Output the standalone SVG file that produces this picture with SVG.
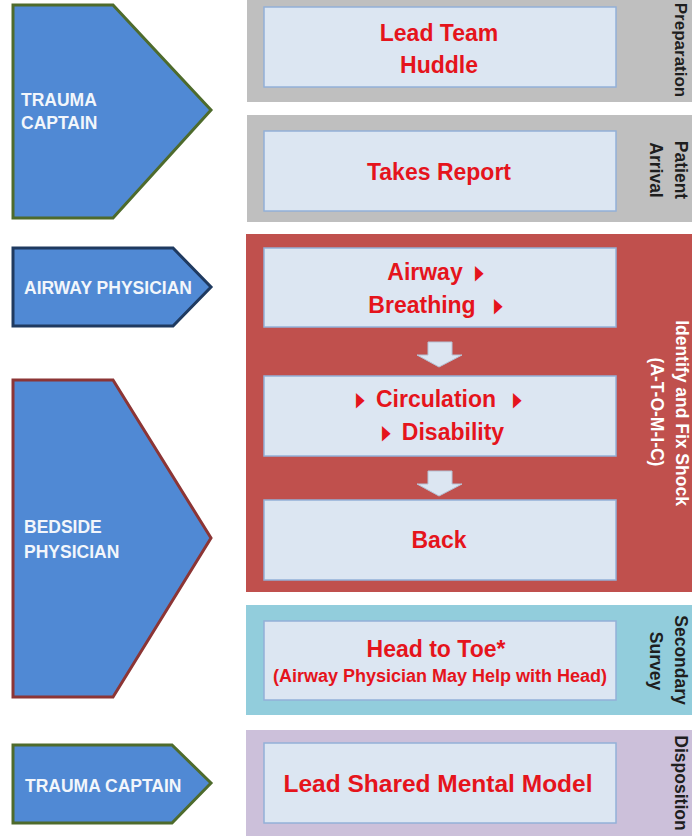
<svg xmlns="http://www.w3.org/2000/svg" width="692" height="836" viewBox="0 0 692 836">
<style>
.role{fill:#5089d4;stroke-width:3;stroke-linejoin:miter}
.rt{font-family:"Liberation Sans",Arial,sans-serif;font-weight:bold;font-size:17.5px;fill:#f2f6fb}
.box{fill:#dce6f2;stroke:#93b0d8;stroke-width:1.5}
.bt{font-family:"Liberation Sans",Arial,sans-serif;font-weight:bold;font-size:23px;fill:#e5141c;text-anchor:middle}
.bl{font-family:"DejaVu Sans",sans-serif;font-size:15px;fill:#e5141c}
.vt{font-family:"Liberation Sans",Arial,sans-serif;font-weight:bold;font-size:17.5px;fill:#1e1e1e;text-anchor:middle}
.vw{fill:#ffffff}
.arr{fill:#dce6f2;stroke:#b5c3d6;stroke-width:1}
</style>
<rect width="692" height="836" fill="#ffffff"/>

<!-- phase panels -->
<g id="phase-preparation">
<rect x="247" y="-10" width="450" height="112" fill="#bfbfbf"/>
<text class="vt" transform="translate(675,50) rotate(90)" style="font-size:17px">Preparation</text>
</g>
<g id="phase-arrival">
<rect x="247" y="115" width="450" height="107" fill="#bfbfbf"/>
<text class="vt" transform="translate(675,170) rotate(90)">Patient</text>
<text class="vt" transform="translate(650,170) rotate(90)">Arrival</text>
</g>
<g id="phase-shock">
<rect x="246" y="234" width="451" height="358" fill="#c0504d"/>
<text class="vt vw" transform="translate(676,413) rotate(90)">Identify and Fix Shock</text>
<text class="vt vw" transform="translate(651,412) rotate(90)">(A-T-O-M-I-C)</text>
</g>
<g id="phase-secondary">
<rect x="246" y="605" width="451" height="110" fill="#92cddc"/>
<text class="vt" transform="translate(675,660) rotate(90)">Secondary</text>
<text class="vt" transform="translate(650,661) rotate(90)">Survey</text>
</g>
<g id="phase-disposition">
<rect x="246" y="730" width="451" height="120" fill="#ccc0da"/>
<text class="vt" transform="translate(675,783) rotate(90)">Disposition</text>
</g>

<!-- role nodes -->
<g id="role-trauma-captain-1">
<polygon class="role" stroke="#4e6b2c" points="13,5 113,5 211,110 113,218 13,218"/>
<text class="rt" x="21" y="106">TRAUMA</text>
<text class="rt" x="21" y="129">CAPTAIN</text>
</g>
<g id="role-airway-physician">
<polygon class="role" stroke="#1f3a60" points="13,248 173,248 211,287 173,326 13,326"/>
<text class="rt" x="24" y="294">AIRWAY PHYSICIAN</text>
</g>
<g id="role-bedside-physician">
<polygon class="role" stroke="#8c3535" points="13,380 113,380 211,538 113,697 13,697"/>
<text class="rt" x="24" y="533">BEDSIDE</text>
<text class="rt" x="24" y="558">PHYSICIAN</text>
</g>
<g id="role-trauma-captain-2">
<polygon class="role" stroke="#4e6b2c" points="13,745 172,745 211,783 172,823 13,823"/>
<text class="rt" x="25" y="792">TRAUMA CAPTAIN</text>
</g>

<!-- task nodes -->
<g id="task-huddle">
<rect class="box" x="264" y="7" width="352" height="80"/>
<text class="bt" x="439" y="41">Lead Team</text>
<text class="bt" x="439" y="73">Huddle</text>
</g>
<g id="task-report">
<rect class="box" x="264" y="131" width="352" height="80"/>
<text class="bt" x="439" y="180">Takes Report</text>
</g>
<g id="task-airway-breathing">
<rect class="box" x="264" y="248" width="352" height="79"/>
<text class="bt" x="425" y="280">Airway</text>
<text class="bl" transform="translate(475,279) scale(0.75,1.35)">▶</text>
<text class="bt" x="422" y="313">Breathing</text>
<text class="bl" transform="translate(494,312) scale(0.75,1.35)">▶</text>
</g>
<g id="task-circulation-disability">
<rect class="box" x="264" y="376" width="352" height="80"/>
<text class="bl" transform="translate(356,406) scale(0.75,1.35)">▶</text>
<text class="bt" x="436" y="407">Circulation</text>
<text class="bl" transform="translate(513,406) scale(0.75,1.35)">▶</text>
<text class="bl" transform="translate(382,439) scale(0.75,1.35)">▶</text>
<text class="bt" x="453" y="440">Disability</text>
</g>
<g id="task-back">
<rect class="box" x="264" y="500" width="352" height="80"/>
<text class="bt" x="439" y="548">Back</text>
</g>
<g id="task-head-to-toe">
<rect class="box" x="264" y="621" width="352" height="79"/>
<text class="bt" x="436" y="657">Head to Toe*</text>
<text class="bt" x="440" y="682" style="font-size:18px">(Airway Physician May Help with Head)</text>
</g>
<g id="task-mental-model">
<rect class="box" x="264" y="743" width="352" height="80"/>
<text class="bt" x="438" y="792" style="font-size:24.5px">Lead Shared Mental Model</text>
</g>

<!-- connectors -->
<g id="connectors">
<polygon class="arr" points="428,342 452,342 452,355 462,355 439,367 417,355 428,355"/>
<polygon class="arr" points="428,471 452,471 452,484 462,484 439,496 417,484 428,484"/>
</g>
</svg>
